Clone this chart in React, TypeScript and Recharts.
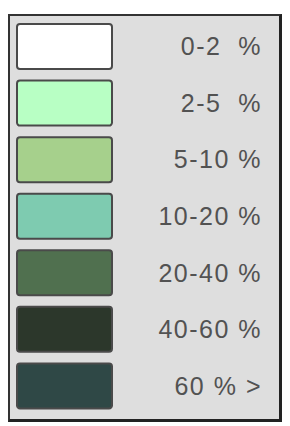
import React from 'react';
import { BarChart, Bar, XAxis, YAxis, Cell } from 'recharts';

const categories = ['0-2  %', '2-5  %', '5-10 %', '10-20 %', '20-40 %', '40-60 %', '60 % >'];
const swatchValues = [1, 1, 1, 1, 1, 1, 1];
const colors = ['#ffffff', '#b8ffc4', '#a6d08c', '#7ecbb0', '#50704f', '#2c372b', '#2f4846'];

const data = categories.map((c, i) => ({ label: c, value: swatchValues[i] }));

const RightTick = (props: any) => {
  const { y, payload } = props;
  return (
    <text
      x={252}
      y={y + 9}
      textAnchor="end"
      fill="#525252"
      fontSize={25}
      fontFamily="'Liberation Sans', Arial, sans-serif"
      letterSpacing={1.5}
      style={{ whiteSpace: 'pre' }}
    >
      {payload.value}
    </text>
  );
};

export default function App() {
  return (
    <div
      style={{
        marginTop: 6,
        width: 269,
        height: 403,
        background: '#dedede',
        borderTop: '2px solid #333',
        borderLeft: '2px solid #333',
        borderRight: '3px solid #222',
        borderBottom: '3px solid #222',
      }}
    >
      <BarChart
        width={269}
        height={403}
        data={data}
        layout="vertical"
        margin={{ top: 2, right: 0, bottom: 5, left: 7 }}
      >
        <XAxis type="number" domain={[0, 1]} hide />
        <YAxis
          type="category"
          dataKey="label"
          orientation="right"
          width={167}
          axisLine={false}
          tickLine={false}
          tick={<RightTick />}
          interval={0}
        />
        <Bar
          dataKey="value"
          barSize={45}
          stroke="#4a4a4a"
          strokeWidth={2}
          radius={3}
          isAnimationActive={false}
        >
          {data.map((d, i) => (
            <Cell key={d.label} fill={colors[i]} />
          ))}
        </Bar>
      </BarChart>
    </div>
  );
}
